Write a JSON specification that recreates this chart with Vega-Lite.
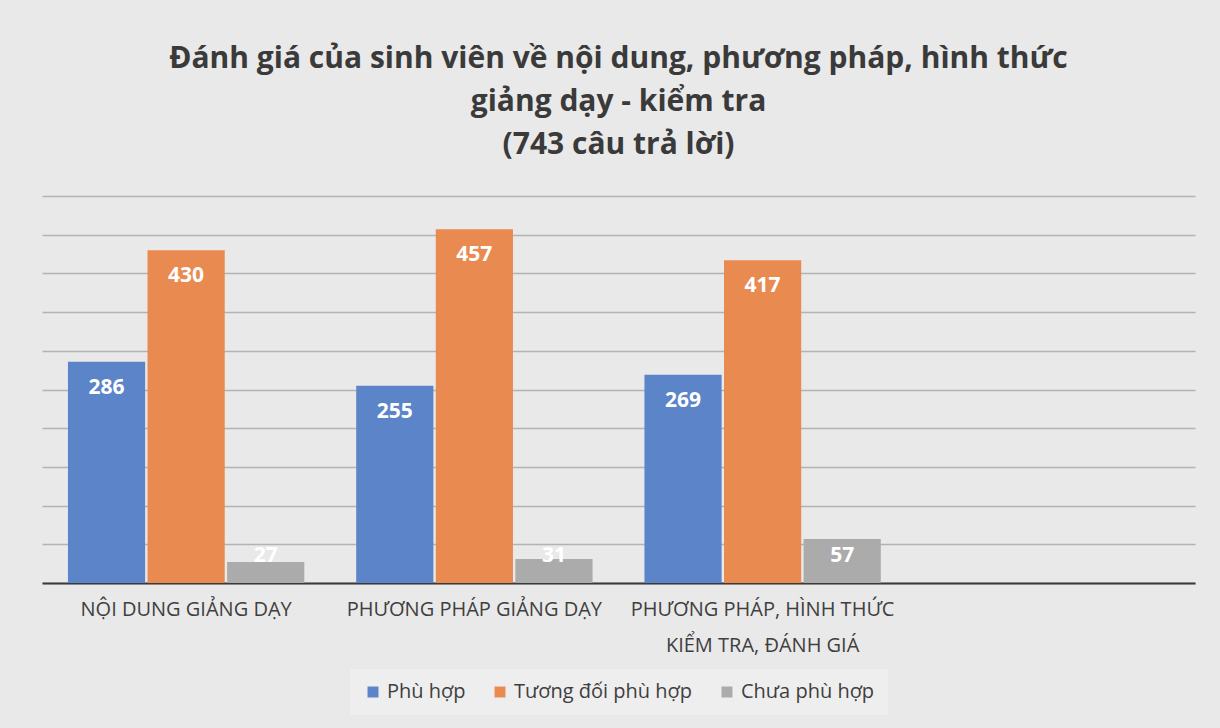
{
  "$schema": "https://vega.github.io/schema/vega-lite/v6.json",
  "width": 1153,
  "height": 387,
  "padding": {"left": 42, "top": 44, "right": 25, "bottom": 16},
  "background": "#e9e9e9",
  "title": {
    "text": ["Đánh giá của sinh viên về nội dung, phương pháp, hình thức", "giảng dạy - kiểm tra", "(743 câu trả lời)"],
    "font": "Open Sans",
    "fontSize": 30,
    "fontWeight": "bold",
    "color": "#3a3a3a",
    "lineHeight": 43,
    "anchor": "middle",
    "offset": 36
  },
  "data": {
    "values": [
      {"nhom": "NỘI DUNG GIẢNG DẠY", "muc": "Phù hợp", "so": 286},
      {"nhom": "NỘI DUNG GIẢNG DẠY", "muc": "Tương đối phù hợp", "so": 430},
      {"nhom": "NỘI DUNG GIẢNG DẠY", "muc": "Chưa phù hợp", "so": 27},
      {"nhom": "PHƯƠNG PHÁP GIẢNG DẠY", "muc": "Phù hợp", "so": 255},
      {"nhom": "PHƯƠNG PHÁP GIẢNG DẠY", "muc": "Tương đối phù hợp", "so": 457},
      {"nhom": "PHƯƠNG PHÁP GIẢNG DẠY", "muc": "Chưa phù hợp", "so": 31},
      {"nhom": "PHƯƠNG PHÁP, HÌNH THỨC KIỂM TRA, ĐÁNH GIÁ", "muc": "Phù hợp", "so": 269},
      {"nhom": "PHƯƠNG PHÁP, HÌNH THỨC KIỂM TRA, ĐÁNH GIÁ", "muc": "Tương đối phù hợp", "so": 417},
      {"nhom": "PHƯƠNG PHÁP, HÌNH THỨC KIỂM TRA, ĐÁNH GIÁ", "muc": "Chưa phù hợp", "so": 57}
    ]
  },
  "encoding": {
    "x": {
      "field": "nhom",
      "type": "nominal",
      "sort": null,
      "scale": {
        "domain": ["NỘI DUNG GIẢNG DẠY", "PHƯƠNG PHÁP GIẢNG DẠY", "PHƯƠNG PHÁP, HÌNH THỨC KIỂM TRA, ĐÁNH GIÁ", "trống"],
        "paddingInner": 0.18,
        "paddingOuter": 0.09
      },
      "axis": {
        "title": null,
        "labelAngle": 0,
        "labelExpr": "datum.value == 'trống' ? '' : (datum.value == 'PHƯƠNG PHÁP, HÌNH THỨC KIỂM TRA, ĐÁNH GIÁ' ? ['PHƯƠNG PHÁP, HÌNH THỨC', 'KIỂM TRA, ĐÁNH GIÁ'] : datum.value)",
        "labelFont": "Open Sans",
        "labelFontSize": 20,
        "labelColor": "#3f3f3f",
        "labelLineHeight": 36,
        "labelPadding": 16,
        "labelLimit": 400,
        "ticks": false,
        "domain": true,
        "domainColor": "#3a3a3a",
        "domainWidth": 2,
        "grid": false
      }
    },
    "xOffset": {
      "field": "muc",
      "type": "nominal",
      "sort": ["Phù hợp", "Tương đối phù hợp", "Chưa phù hợp"],
      "scale": {"paddingInner": 0.03}
    }
  },
  "layer": [
    {
      "mark": {"type": "bar"},
      "encoding": {
        "y": {
          "field": "so",
          "type": "quantitative",
          "scale": {"domain": [0, 500], "nice": false},
          "axis": {
            "title": null,
            "labels": false,
            "ticks": false,
            "domain": false,
            "values": [0, 50, 100, 150, 200, 250, 300, 350, 400, 450, 500],
            "gridColor": "#b3b3b3",
            "gridWidth": 1.5
          }
        },
        "color": {
          "field": "muc",
          "type": "nominal",
          "sort": ["Phù hợp", "Tương đối phù hợp", "Chưa phù hợp"],
          "scale": {
            "domain": ["Phù hợp", "Tương đối phù hợp", "Chưa phù hợp"],
            "range": ["#5b84c9", "#e98a50", "#ababab"]
          },
          "legend": {
            "title": null,
            "orient": "bottom",
            "direction": "horizontal",
            "symbolType": "square",
            "symbolSize": 120,
            "symbolStrokeWidth": 0,
            "labelFont": "Open Sans",
            "labelFontSize": 20,
            "labelColor": "#3f3f3f",
            "labelLimit": 400,
            "columnPadding": 24,
            "fillColor": "#eeeeee",
            "padding": 13,
            "offset": 14
          }
        }
      }
    },
    {
      "transform": [{"filter": "datum.so >= 100"}],
      "mark": {"type": "text", "baseline": "middle", "dy": 26, "color": "white", "font": "Open Sans", "fontWeight": "bold", "fontSize": 21},
      "encoding": {
        "y": {"field": "so", "type": "quantitative", "axis": {"title": null, "labels": false, "ticks": false, "domain": false, "values": [0, 50, 100, 150, 200, 250, 300, 350, 400, 450, 500], "gridColor": "#b3b3b3", "gridWidth": 1.5}},
        "text": {"field": "so", "type": "quantitative"}
      }
    },
    {
      "transform": [{"filter": "datum.so < 100"}],
      "mark": {"type": "text", "baseline": "middle", "color": "white", "font": "Open Sans", "fontWeight": "bold", "fontSize": 21},
      "encoding": {
        "y": {"datum": 35, "type": "quantitative", "axis": {"title": null, "labels": false, "ticks": false, "domain": false, "values": [0, 50, 100, 150, 200, 250, 300, 350, 400, 450, 500], "gridColor": "#b3b3b3", "gridWidth": 1.5}},
        "text": {"field": "so", "type": "quantitative"}
      }
    }
  ],
  "config": {
    "view": {"stroke": null},
    "legend": {"layout": {"bottom": {"anchor": "middle"}}}
  }
}
